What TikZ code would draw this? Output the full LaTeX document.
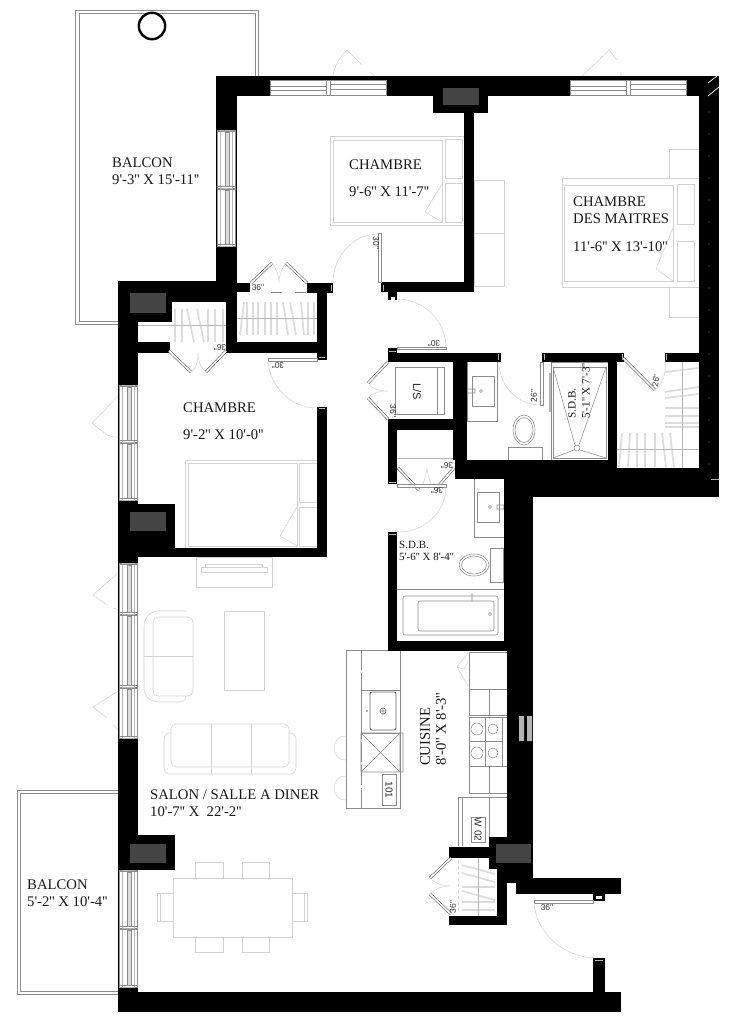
\documentclass[tikz,border=0pt]{standalone}
\usepackage{fontspec}
\newfontfamily\palf{Liberation Serif}
\newfontfamily\dimf{Liberation Sans}
\definecolor{faint}{HTML}{D2D2D2}
\definecolor{soft}{HTML}{B5B5B5}
\definecolor{line}{HTML}{8C8C8C}
\definecolor{block}{HTML}{444444}
\definecolor{hang}{HTML}{DCDCDC}
\tikzset{
  furn/.style={draw=faint,line width=.55pt},
  fix/.style={draw=line,line width=.55pt},
  wallf/.style={fill=black},
  blockf/.style={fill=block},
  leaf/.style={draw=black!75,line width=.5pt,double=white,double distance=1.7pt},
  swing/.style={draw=faint,line width=.5pt},
  hanger/.style={draw=hang,line width=1.7pt},
  rodl/.style={draw=soft,line width=.6pt},
  tick/.style={draw=white!70!black,line width=.9pt},
  roomlbl/.style={font=\palf\fontsize{14.7}{17}\selectfont,anchor=north west,inner sep=0pt,align=left,text=black!90},
  smalllbl/.style={font=\palf\fontsize{11}{12.5}\selectfont,anchor=north west,inner sep=0pt,align=left,text=black!90},
  dimlbl/.style={font=\dimf\fontsize{8.5}{9}\selectfont,inner sep=0pt,text=black!80}
}
\newcommand\vwin[4]{%
  \draw[fix,fill=white] (#1,#2) rectangle (#3,#4);
  \draw[soft,line width=.5pt] ({#1+3},#2) rectangle ({#3-3},#4);
  \fill[hang] ({#1+8},{#2+2}) rectangle ({#1+12},{#4-2});
  \draw[line,line width=.5pt] ({#1+8},{#2+2}) rectangle ({#1+12},{#4-2});
  \draw[fix] (#1,{#2+1.5}) -- (#3,{#2+1.5}) (#1,{#4-1.5}) -- (#3,{#4-1.5});
}
\newcommand\hwin[4]{%
  \draw[fix,fill=white] (#1,#2) rectangle (#3,#4);
  \draw[line,line width=.5pt] (#1,{#2+6}) -- ({(#1+#3)/2-2},{#2+6}) (#1,{#2+10}) -- ({(#1+#3)/2-2},{#2+10});
  \draw[line,line width=.5pt] ({(#1+#3)/2+2},{#2+4}) -- (#3,{#2+4}) ({(#1+#3)/2+2},{#2+9}) -- (#3,{#2+9});
  \draw[fix] ({(#1+#3)/2-2},#2) -- ({(#1+#3)/2-2},#4) ({(#1+#3)/2+2},#2) -- ({(#1+#3)/2+2},#4);
}
\begin{document}
\begin{tikzpicture}[x=1pt,y=-1pt]
\useasboundingbox (0,0) rectangle (734,1024);
\fill[white] (0,0) rectangle (734,1024);
% balconies
\draw[draw=line,line width=.6pt] (118,324) -- (75.5,324) -- (75.5,10) -- (258.5,10) -- (258.5,76);
\draw[draw=line,line width=.6pt] (118,321) -- (79,321) -- (79,13.5) -- (255.5,13.5) -- (255.5,76);
\draw[draw=line,line width=.6pt] (118,790) -- (17,790) -- (17,994) -- (118,994);
\draw[draw=line,line width=.6pt] (118,793) -- (20,793) -- (20,991) -- (118,991);
\draw[black,line width=2.4pt] (152,26) circle[radius=13.2];
% window swing marks
\draw[swing] (332,80) .. controls (333,72) and (336,64) .. (340,58) -- (347,50) -- (362,65);
\draw[swing] (370,72) -- (385,84);
\draw[swing] (573,85) -- (609,50) -- (617,60);
\draw[swing] (620,72) .. controls (622,76) and (623,80) .. (623,85);
\draw[swing] (127,387) -- (92,423) -- (107,435) .. controls (112,437) and (118,438) .. (125,437);
\draw[swing] (127,565) -- (93,595) -- (107,605) (113,608) -- (127,612);
\draw[swing] (120,690) -- (93,707) -- (107,718) (113,725) -- (125,736);
% beds and night tables
\draw[furn] (330,136) rectangle (465,225) (333,140) rectangle (442,222);
\draw[furn] (445,139) rectangle (462,178) (445,183) rectangle (462,222);
\draw[furn] (442,184) -- (425,212) -- (442,222);
\draw[furn] (474,180) rectangle (504,233) (474,233) rectangle (504,286);
\draw[furn] (562,178) rectangle (699,287) (564,185) rectangle (673,281);
\draw[furn] (677,184) rectangle (694,224) (677,241) rectangle (694,281);
\draw[furn] (673,228) -- (656,269) -- (673,281);
\draw[furn] (669,149) rectangle (699,178) (669,287) rectangle (699,317);
\draw[furn] (185,460) rectangle (319,548) (188,463) rectangle (297,546);
\draw[furn] (299,463) rectangle (317,502) (299,507) rectangle (317,546);
\draw[furn] (297,507) -- (280,536) -- (297,546);
% living room
\draw[furn] (196,557) rectangle (272,587) (201,567) rectangle (267,572) (205,564) rectangle (262,567);
\draw[furn,rounded corners=6pt] (186,611) -- (152,611) -- (144,620) -- (144,694) -- (152,702) -- (186,702) -- (186,696);
\draw[furn,rounded corners=5pt] (153,617) rectangle (193,696);
\draw[furn] (144,656) -- (193,656);
\draw[furn] (224,611) rectangle (264,690);
\draw[furn,rounded corners=6pt] (171,733) -- (164,733) -- (164,774) -- (296,774) -- (296,733) -- (289,733);
\draw[furn,rounded corners=5pt] (171,724) rectangle (289,767);
\draw[furn] (211,724) -- (211,774) (251,724) -- (251,774);
% dining
\draw[furn] (173,878) rectangle (292,937);
\draw[furn] (195,862) rectangle (223,878) (242,862) rectangle (269,878);
\draw[furn] (195,937) rectangle (223,952) (242,937) rectangle (269,952);
\draw[furn] (157,893) rectangle (173,921) (292,893) rectangle (307,921);
\draw[furn] (160,893) -- (160,921) (304,893) -- (304,921);
% closets hangers
\foreach \a/\b in {175/175,182/182,187/194,197/204,208/208,215/215,223/223}
  \draw[hanger] (\a,309) -- (\b,342);
\draw[rodl] (138,325) -- (227,325);
\foreach \a/\b in {244/240,247/247,253/253,258/258,265/265,271/271,277/277,283/288,290/296,301/304,308/308,314/314}
  \draw[hanger] (\a,302) -- (\b,335);
\draw[rodl] (237,318) -- (317,318);
\foreach \a/\b in {372/368,392/387,398/394,408/408,416/416,423/423,427/427}
  \draw[hanger] (665,\a) -- (699,\b);
\foreach \a/\b in {622/619,630/628,637/637,645/645,655/655,662/666,670/674}
  \draw[hanger] (\a,433) -- (\b,467);
\draw[rodl] (682,362) -- (682,468) (617,449) -- (699,449);
\foreach \a/\b in {865/874,873/882,887/887,891/900,902/902,910/910}
  \draw[hanger] (462,\a) -- (495,\b);
\draw[rodl] (478,858) -- (478,916);
\draw[hanger,line width=.9pt,dashed] (458,860) -- (458,912);
\draw[fix,dashed,dash pattern=on 11pt off 13pt] (271,292) -- (307,292);
\draw[rodl] (397,458) -- (455,458);
% island
\draw[fix] (346,650) rectangle (400,808);
\draw[fix,dash pattern=on 20pt off 3pt] (361,650) -- (361,808);
\draw[fix] (361,690) rectangle (400,733);
\draw[draw=black!60,line width=.8pt,rounded corners=2pt] (370,692) rectangle (396,730);
\draw[fix] (383,711) circle[radius=3] (383,707) -- (383,715) (379,711) -- (387,711);
\fill[black!60] (367,711) circle[radius=.9];
\draw[fix] (361,733) rectangle (403,772) (361,733) -- (400,772) (400,733) -- (361,772) (400,733) -- (400,772);
\draw[fix] (382,774) rectangle (396,805);
\node[font=\dimf\fontsize{10}{10}\selectfont,rotate=-90,inner sep=0pt,text=black!85] (t101) at (389,790) {101};
\draw[swing] (346,736) .. controls (330,736) and (330,760) .. (346,760);
\draw[swing] (346,776) .. controls (330,776) and (330,800) .. (346,800);
% kitchen
\draw[fix] (469,652) rectangle (507,689);
\draw[swing] (468,653) -- (457,667) -- (468,686) (457,667) -- (464,669) -- (468,662);
\draw[fix] (469,689) rectangle (507,715) (489,689) -- (489,715);
\draw[fix] (469,717) rectangle (507,766) (485,717) -- (485,766) (502,717) -- (502,766) (469,741) -- (502,741);
\draw[fix] (477,729) circle[radius=6] (493,729) circle[radius=5] (477,753) circle[radius=6] (493,753) circle[radius=5];
\draw[fix] (469,766) rectangle (507,793) (489,766) -- (489,793);
\draw[fix] (458,797) -- (507,797) (458,797) -- (458,846) (462,797) -- (462,846) (489,797) -- (489,837);
\draw[fix] (471,817) rectangle (485,842);
\node[font=\dimf\fontsize{10}{10}\selectfont,rotate=-90,inner sep=0pt,text=black!85] (tw02) at (478,829.5) {W 02};
% LS
\draw[fix] (395,367) rectangle (444,414) (437,367) -- (437,414);
\node[font=\dimf\fontsize{11}{11}\selectfont,rotate=-90,inner sep=0pt,text=black!85] (tls) at (417,392) {L/S};
% upper bath
\draw[fix] (467,362) -- (467,421) -- (497,421) -- (497,362);
\draw[fix] (472,376) rectangle (494,406);
\draw[fix] (467,389) rectangle (475,393) (481,391) circle[radius=1.5];
\draw[fix,fill=white] (524,430) ellipse[x radius=11,y radius=15];
\draw[fix] (524,430) ellipse[x radius=9,y radius=12.5];
\draw[fix,fill=white] (508,447) rectangle (542,460);
\draw[fix] (551,362) rectangle (608,460) (553,367) rectangle (606,458);
\draw[fix] (553,367) -- (575,445) (606,367) -- (579,445) (553,458) -- (574,450) (606,458) -- (580,450);
\draw[fix] (577,448) circle[radius=3];
\draw[soft,line width=1.3pt] (550,373) -- (550,412);
\node[font=\palf\fontsize{11.2}{13}\selectfont,rotate=90,anchor=west,inner sep=0pt,text=black!90] (tsdb1) at (572,419) {S.D.B.};
\node[font=\palf\fontsize{11.2}{13}\selectfont,rotate=90,anchor=west,inner sep=0pt,text=black!90] (tsdb2) at (586,419) {5'-1'' X 7'-3''};
% lower bath
\draw[fix] (474,479) -- (474,537) -- (504,537);
\draw[fix] (477,492) rectangle (499,522);
\draw[fix] (497,505) rectangle (504,509) (490,507) circle[radius=1.5];
\draw[fix,fill=white] (474,565) ellipse[x radius=15,y radius=11];
\draw[fix] (474,565) ellipse[x radius=12.5,y radius=9];
\draw[fix,fill=white] (490,548) rectangle (503,582);
\draw[fix] (397,589) -- (504,589);
\draw[fix,rounded corners=2pt] (403,596) rectangle (498,635) (418,601) rectangle (494,631);
\draw[fix] (490,614) circle[radius=1.5] (472,593) -- (472,601);
% walls
\fill[wallf] (216,76) rectangle (719,96);
\fill[wallf] (433,96) rectangle (488,113);
\fill[wallf] (464,113) rectangle (474,292);
\fill[wallf] (381,282) rectangle (474,292);
\fill[wallf] (388,292) rectangle (397,300);
\fill[wallf] (216,76) rectangle (237,283);
\fill[wallf] (118,281) rectangle (237,302);
\fill[wallf] (118,281) rectangle (138,1012);
\fill[wallf] (138,302) rectangle (172,322);
\fill[wallf] (226,302) rectangle (237,353);
\fill[wallf] (138,342) rectangle (170,353);
\fill[wallf] (226,342) rectangle (327,353);
\fill[wallf] (237,283) rectangle (250,292);
\fill[wallf] (307,283) rectangle (333,293);
\fill[wallf] (317,283) rectangle (327,360);
\fill[wallf] (317,407) rectangle (327,557);
\fill[wallf] (118,548) rectangle (327,557);
\fill[wallf] (118,504) rectangle (175,557);
\fill[wallf] (118,835) rectangle (175,870);
\fill[wallf] (118,992) rectangle (621,1012);
\fill[wallf] (593,958) rectangle (605,993);
\fill[wallf] (516,878) rectangle (621,894);
\fill[wallf] (593,894) rectangle (605,901);
\fill[wallf] (504,479) rectangle (533,651);
\fill[wallf] (507,651) rectangle (533,878);
\fill[wallf] (455,460) rectangle (617,479);
\fill[wallf] (617,468) rectangle (719,497);
\fill[wallf] (504,479) rectangle (719,497);
\fill[wallf] (699,76) rectangle (719,497);
\fill[wallf] (453,353) rectangle (467,460);
\fill[wallf] (388,353) rectangle (501,362);
\fill[wallf] (388,348) rectangle (397,362);
\fill[wallf] (542,353) rectangle (624,362);
\fill[wallf] (665,353) rectangle (699,362);
\fill[wallf] (608,353) rectangle (617,468);
\fill[wallf] (388,419) rectangle (453,430);
\fill[wallf] (388,419) rectangle (397,484);
\fill[wallf] (388,532) rectangle (397,651);
\fill[wallf] (388,641) rectangle (507,651);
\fill[wallf] (489,837) rectangle (507,869);
\fill[wallf] (497,869) rectangle (533,883);
\fill[wallf] (497,883) rectangle (507,925);
\fill[wallf] (449,847) rectangle (489,858);
\fill[wallf] (449,916) rectangle (507,925);
% flue blocks
\fill[blockf] (130,293) rectangle (166,313);
\fill[blockf] (130,512) rectangle (166,531);
\fill[blockf] (130,844) rectangle (166,863);
\fill[blockf] (496,844) rectangle (531,863);
\fill[blockf] (443,88) rectangle (479,105);
\fill[soft] (519,716) rectangle (524,741) (527,716) rectangle (532,741);
% jamb details
\fill[white] (596,896) rectangle (602,899);
\fill[white] (390.5,297) rectangle (394.5,300.2);
\draw[tick] (389,351) -- (396,351) (498.7,354) -- (498.7,360) (544,354) -- (544,360) (622.7,354) -- (622.7,360) (666.7,354) -- (666.7,360);
\draw[tick] (389,482) -- (396,482) (389,534) -- (396,534) (319,357) -- (325,357) (319,408) -- (325,408);
\draw[tick] (331.7,285) -- (331.7,291) (383,285) -- (383,291) (595,960) -- (603,960);
\draw[tick] (711,479) -- (719,479);
\draw[white,line width=.7pt] (708,83) -- (717,76) (708,96) -- (719,87);
\foreach \yy in {112,134,156,178,200,222,244,266,288,310,332,354,376,398,420,442,464}
  \fill[black!55] (709,\yy) circle[radius=.6];
% windows
\hwin{270}{80.5}{386}{95}
\hwin{570}{80.5}{686}{95}
\vwin{217}{130}{235}{188}
\vwin{217}{188}{235}{246}
\vwin{119}{385}{137}{442}
\vwin{119}{442}{137}{500}
\vwin{119}{563}{137}{614}
\vwin{119}{614}{137}{687}
\vwin{119}{687}{137}{738}
\vwin{119}{870}{137}{928}
\vwin{119}{928}{137}{987}
% doors
\draw[leaf] (251,283) -- (272,263);
\draw[leaf] (307,283) -- (286,263);
\draw[swing] (272,263) .. controls (276,268) and (279,275) .. (279,283) .. controls (279,275) and (282,268) .. (286,263);
\draw[leaf] (169,351) -- (191,372);
\draw[leaf] (226,351) -- (206,372);
\draw[swing] (191,372) .. controls (197,368) and (198,360) .. (198,353) .. controls (198,360) and (200,368) .. (206,372);
\draw[leaf] (388,362) -- (368,383);
\draw[leaf] (388,419) -- (368,398);
\draw[swing] (368,383) .. controls (373,390) and (380,391) .. (388,391) .. controls (380,391) and (373,392) .. (368,398);
\draw[leaf] (398,468) -- (419,490);
\draw[leaf] (454,468) -- (435,490);
\draw[swing] (419,490) .. controls (424,484) and (426,476) .. (427,468) .. controls (428,476) and (430,484) .. (435,490);
\draw[leaf] (451,858) -- (430,878);
\draw[leaf] (451,914) -- (430,894);
\draw[swing] (430,878) .. controls (436,884) and (443,886) .. (450,886) .. controls (443,886) and (436,888) .. (430,894);
\draw[fix,fill=white] (378,233) rectangle (381,282);
\draw[swing] (378,234) .. controls (354,234) and (333,256) .. (333,282);
\draw[fix,fill=white] (397,347) rectangle (446,349.5);
\draw[swing] (446,348) .. controls (446,321) and (424,299) .. (397,299);
\draw[fix,fill=white] (268,358) rectangle (317,361);
\draw[swing] (268,361) .. controls (270,387) and (291,408) .. (317,408);
\draw[fix,fill=white] (540,362) rectangle (543,405);
\draw[swing] (541,405) .. controls (517,405) and (499,386) .. (499,362);
\draw[leaf] (623,358) -- (655,390);
\draw[swing] (655,390) .. controls (662,385) and (667,372) .. (665,360);
\draw[fix,fill=white] (397,484) rectangle (446,487);
\draw[swing] (446,487) .. controls (446,512) and (424,533) .. (397,532);
\draw[fix,fill=white] (534,900) rectangle (593,903);
\draw[swing] (534,903) .. controls (536,932) and (562,956) .. (593,958);
% dimension labels
\node[dimlbl] (d1) at (258,288) {36"};
\node[dimlbl,rotate=-90] (d2) at (376,243) {30"};
\node[dimlbl,rotate=180] (d3) at (434,343) {30"};
\node[dimlbl,rotate=180] (d4) at (278,365) {30"};
\node[dimlbl,rotate=180] (d5) at (220,347) {36"};
\node[dimlbl,rotate=-90] (d6) at (393,411) {36"};
\node[dimlbl,rotate=180] (d7) at (447,465) {36"};
\node[dimlbl,rotate=180] (d8) at (437,490) {36"};
\node[dimlbl,rotate=90] (d9) at (534,396) {26"};
\node[dimlbl,rotate=80] (d10) at (656,381) {26"};
\node[dimlbl,rotate=90] (d11) at (453,907) {36"};
\node[dimlbl] (d12) at (547,908) {36"};
% room labels
\node[roomlbl] (r1) at (112,158) {BALCON\\9'-3'' X 15'-11''};
\node[roomlbl] (r2) at (349,160) {CHAMBRE\\[10pt]9'-6'' X 11'-7''};
\node[roomlbl] (r3) at (573,197) {CHAMBRE\\DES MAITRES\\[11pt]11'-6'' X 13'-10''};
\node[roomlbl] (r4) at (183,403) {CHAMBRE\\[10pt]9'-2'' X 10'-0''};
\node[roomlbl] (r5) at (150,790) {SALON / SALLE A DINER\\10'-7'' X\ \ 22'-2''};
\node[roomlbl] (r6) at (27,880) {BALCON\\5'-2'' X 10'-4''};
\node[smalllbl] (r7) at (399,541) {S.D.B.\\5'-6'' X 8'-4''};
\node[font=\palf\fontsize{14.7}{16}\selectfont,rotate=90,anchor=west,inner sep=0pt,text=black!90] (r8) at (425,766) {CUISINE};
\node[font=\palf\fontsize{14.7}{16}\selectfont,rotate=90,anchor=west,inner sep=0pt,text=black!90] (r9) at (441,766) {8'-0'' X 8'-3''};
\end{tikzpicture}
\end{document}
